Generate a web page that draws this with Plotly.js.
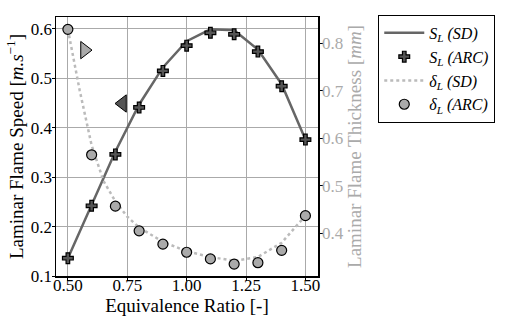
<!DOCTYPE html>
<html>
<head>
<meta charset="utf-8">
<script src="https://cdn.plot.ly/plotly-3.0.1.min.js"></script>
<style>html,body{margin:0;padding:0;background:#fff;}#plot{width:507px;height:321px;}</style>
</head>
<body>
<div id="plot"></div>
<script>
// Data
const phiArc = [0.5, 0.6, 0.7, 0.8, 0.9, 1.0, 1.1, 1.2, 1.3, 1.4, 1.5];
const slArc = [0.136, 0.242, 0.346, 0.441, 0.515, 0.566, 0.592, 0.589, 0.554, 0.484, 0.376];
const phiSd = [0.5, 0.6, 0.7, 0.8, 0.9, 1.0, 1.1, 1.2, 1.3, 1.4, 1.5];
const slSd = [0.136, 0.245, 0.352, 0.447, 0.522, 0.575, 0.599, 0.597, 0.558, 0.488, 0.376];
const deltaArc = [0.829, 0.565, 0.457, 0.405, 0.377, 0.360, 0.346, 0.335, 0.338, 0.364, 0.437];
const phiDeltaSd = [0.5, 0.55, 0.6, 0.65, 0.7, 0.75, 0.8, 0.9, 1.0, 1.1, 1.2, 1.3, 1.4, 1.5];
const deltaSd = [0.829, 0.70, 0.585, 0.51, 0.467, 0.435, 0.412, 0.382, 0.362, 0.350, 0.342, 0.350, 0.380, 0.437];
const arrowX = [0.57, 0.73];
const arrowY = [0.557, 0.449];
const xTicks = [0.5, 0.75, 1.0, 1.25, 1.5];
const xTickText = ["0.50", "0.75", "1.00", "1.25", "1.50"];
const yTicks = [0.1, 0.2, 0.3, 0.4, 0.5, 0.6];
const y2Ticks = [0.4, 0.5, 0.6, 0.7, 0.8];

const FONT = "Liberation Serif";
const traces = [
  {x: phiSd, y: slSd, mode: 'lines', name: '<i>S<sub>L</sub> (SD)</i>',
   line: {color: '#666666', width: 2.5}, yaxis: 'y'},
  {x: phiArc, y: slArc, mode: 'markers', name: '<i>S<sub>L</sub> (ARC)</i>',
   marker: {symbol: 'cross', size: 9, color: '#555555', line: {color: '#000', width: 1.2}}, yaxis: 'y'},
  {x: phiDeltaSd, y: deltaSd, mode: 'lines', name: '<i>δ<sub>L</sub> (SD)</i>',
   line: {color: '#bbbbbb', width: 2.5, dash: 'dot'}, yaxis: 'y2'},
  {x: phiArc, y: deltaArc, mode: 'markers', name: '<i>δ<sub>L</sub> (ARC)</i>',
   marker: {symbol: 'circle', size: 10, color: '#aaaaaa', line: {color: '#000', width: 1.2}}, yaxis: 'y2'},
  {x: [arrowX[0]], y: [arrowY[0]], mode: 'markers', showlegend: false,
   marker: {symbol: 'triangle-right', size: 15, color: '#aaaaaa', line: {color: '#000', width: 1}}, yaxis: 'y'},
  {x: [arrowX[1]], y: [arrowY[1]], mode: 'markers', showlegend: false,
   marker: {symbol: 'triangle-left', size: 15, color: '#555555', line: {color: '#000', width: 1}}, yaxis: 'y'}
];

const layout = {
  width: 507, height: 321,
  margin: {l: 56, r: 185, t: 17, b: 45},
  paper_bgcolor: '#fff', plot_bgcolor: '#fff',
  font: {family: FONT, size: 16, color: '#000'},
  showlegend: true,
  legend: {x: 1.23, y: 1.008, xanchor: 'left', yanchor: 'top',
    bordercolor: '#000', borderwidth: 1, font: {family: FONT, size: 16, color: '#000'},
    tracegroupgap: 0, itemwidth: 40},
  xaxis: {range: [0.45, 1.553], tickvals: xTicks, ticktext: xTickText,
    showgrid: true, gridcolor: '#aaaaaa', gridwidth: 1,
    showline: true, linecolor: '#000', linewidth: 1.5, mirror: true,
    ticks: 'outside', ticklen: 3, tickcolor: '#000', ticklabelstandoff: -10,
    zeroline: false, tickfont: {family: FONT, size: 17, color: '#000'},
    title: {text: 'Equivalence Ratio [-]', font: {family: FONT, size: 19, color: '#000'}, standoff: 0}},
  yaxis: {range: [0.1, 0.624], tickvals: yTicks, ticktext: yTicks.map(v => v.toFixed(1)),
    showgrid: true, gridcolor: '#aaaaaa', gridwidth: 1,
    showline: true, linecolor: '#000', linewidth: 1.5, mirror: true,
    ticks: 'outside', ticklen: 3, tickcolor: '#000', ticklabelstandoff: -4,
    zeroline: false, tickfont: {family: FONT, size: 17, color: '#000'},
    title: {text: 'Laminar Flame Speed [<i>m.s</i><sup>−1</sup>]', font: {family: FONT, size: 19, color: '#000'}, standoff: 2}},
  yaxis2: {range: [0.31, 0.855], overlaying: 'y', side: 'right',
    tickvals: y2Ticks, ticktext: y2Ticks.map(v => v.toFixed(1)),
    showgrid: false, zeroline: false,
    showline: true, linecolor: '#000', linewidth: 1.5,
    ticks: 'outside', ticklen: 3, tickcolor: '#000', ticklabelstandoff: -4,
    tickfont: {family: FONT, size: 17, color: '#aaaaaa'},
    title: {text: 'Laminar Flame Thickness [<i>mm</i>]', font: {family: FONT, size: 19, color: '#aaaaaa'}, standoff: 2}}
};

Plotly.newPlot('plot', traces, layout, {displayModeBar: false, staticPlot: true});
</script>
</body>
</html>
